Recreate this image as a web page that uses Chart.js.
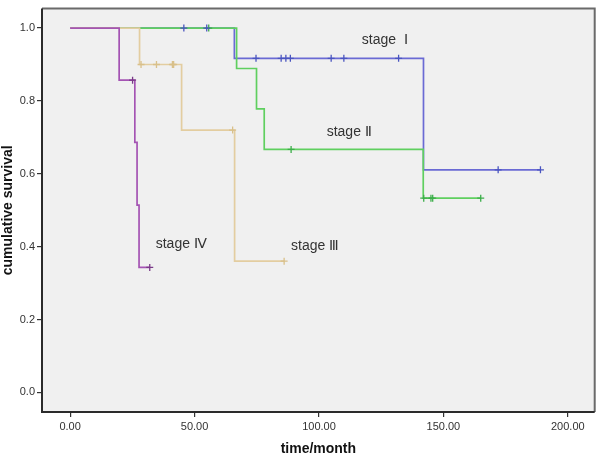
<!DOCTYPE html>
<html>
<head>
<meta charset="utf-8">
<script src="https://cdn.jsdelivr.net/npm/chart.js@4"></script>
<style>
  html, body { margin: 0; padding: 0; background: #fff; }
  #wrap { width: 600px; height: 458px; }
</style>
</head>
<body>
<div id="wrap"><canvas id="km-chart" width="600" height="458"></canvas></div>
<script>
// survival steps (time in months, cumulative survival)
const stage1Time = [0, 66, 142, 189]
const stage1Surv = [1, 0.917, 0.611, 0.611]
const stage1Censor = [45.7, 54.9, 74.7, 84.8, 86.7, 88.5, 104.9, 110, 132, 172, 189]

const stage2Time = [0, 66.9, 74.9, 78, 141.9, 165]
const stage2Surv = [1, 0.889, 0.778, 0.667, 0.533, 0.533]
const stage2Censor = [55.7, 88.8, 142.1, 145, 145.7, 165]

const stage3Time = [0, 27.9, 44.8, 66.1, 86]
const stage3Surv = [1, 0.9, 0.72, 0.36, 0.36]
const stage3Censor = [28.5, 34.7, 41.1, 41.6, 65.3, 86]

const stage4Time = [0, 19.7, 26, 26.9, 27.7, 32]
const stage4Surv = [1, 0.857, 0.686, 0.514, 0.343, 0.343]
const stage4Censor = [25.1, 32]

const xTicks = [0, 50, 100, 150, 200]
const yTicks = [0, 0.2, 0.4, 0.6, 0.8, 1.0]

const stageLabels = ['stage  Ⅰ', 'stage Ⅱ', 'stage Ⅲ', 'stage Ⅳ']
const labelX = [117.2, 103.1, 88.8, 34.4]
const labelY = [0.966, 0.715, 0.401, 0.406]

function toPoints(times, surv) {
    return times.map((t, i) => ({ x: t, y: surv[i] }))
}

// y of the step curve at a censoring time
function censorPoints(cens, times, surv) {
    return cens.map((c) => {
        let y = surv[0]
        for (let i = 0; i < times.length; i++) {
            if (times[i] <= c) y = surv[i]
        }
        return { x: c, y: y }
    })
}

const colors = {
    s1: '#6a6ad4',
    s2: '#5fcf5f',
    s3: '#e3cda0',
    s4: '#a453b3',
}

function stepSet(label, times, surv, color) {
    return {
        label: label,
        data: toPoints(times, surv),
        showLine: true,
        stepped: true,
        borderColor: color,
        borderWidth: 1.7,
        pointRadius: 0,
        fill: false,
    }
}

function censorSet(label, cens, times, surv, color) {
    return {
        label: label,
        data: censorPoints(cens, times, surv),
        showLine: false,
        pointStyle: 'cross',
        pointRadius: 3.5,
        pointBorderWidth: 1.3,
        borderColor: color,
        backgroundColor: color,
    }
}

// first dataset ends up on top
const data = {
    datasets: [
        censorSet('IV censored', stage4Censor, stage4Time, stage4Surv, '#7a3a88'),
        stepSet('stage IV', stage4Time, stage4Surv, colors.s4),
        censorSet('III censored', stage3Censor, stage3Time, stage3Surv, '#d9c08a'),
        stepSet('stage III', stage3Time, stage3Surv, colors.s3),
        censorSet('I censored', stage1Censor, stage1Time, stage1Surv, '#4a55c0'),
        censorSet('II censored', stage2Censor, stage2Time, stage2Surv, '#3cae4a'),
        stepSet('stage II', stage2Time, stage2Surv, colors.s2),
        stepSet('stage I', stage1Time, stage1Surv, colors.s1),
    ]
}

// grey panel + frame, and the stage names next to the curves
const panel = {
    id: 'panel',
    beforeDraw(chart) {
        const { ctx, chartArea: a } = chart
        ctx.save()
        ctx.fillStyle = '#f0f0f0'
        ctx.fillRect(a.left, a.top, a.right - a.left, a.bottom - a.top)
        ctx.restore()
    },
    afterDraw(chart) {
        const { ctx, chartArea: a, scales } = chart
        ctx.save()
        ctx.strokeStyle = '#6a6a6a'
        ctx.lineWidth = 2
        ctx.beginPath()
        ctx.moveTo(a.left, a.top)
        ctx.lineTo(a.right, a.top)
        ctx.lineTo(a.right, a.bottom)
        ctx.stroke()
        ctx.strokeStyle = '#2b2b2b'
        ctx.lineWidth = 2
        ctx.beginPath()
        ctx.moveTo(a.left, a.top)
        ctx.lineTo(a.left, a.bottom)
        ctx.lineTo(a.right, a.bottom)
        ctx.stroke()

        ctx.fillStyle = '#333'
        ctx.font = '14px "Liberation Sans", Arial, sans-serif'
        ctx.textAlign = 'left'
        ctx.textBaseline = 'middle'
        stageLabels.forEach((t, i) => {
            ctx.fillText(t, scales.x.getPixelForValue(labelX[i]), scales.y.getPixelForValue(labelY[i]))
        })
        ctx.restore()
    }
}

const tickFont = { family: '"Liberation Sans", Arial, sans-serif', size: 11 }
const titleFont = { family: '"Liberation Sans", Arial, sans-serif', size: 14, weight: 'bold' }

const config = {
    type: 'scatter',
    data: data,
    options: {
        responsive: false,
        animation: false,
        layout: { padding: { top: 3, right: 3, left: 0, bottom: 0 } },
        plugins: {
            legend: { display: false },
            tooltip: { enabled: false },
        },
        scales: {
            x: {
                type: 'linear',
                min: -11.3,
                max: 210.8,
                afterBuildTicks: (s) => { s.ticks = xTicks.map((v) => ({ value: v })) },
                afterFit: (s) => { s.height = 46 },
                border: { display: false },
                grid: { drawOnChartArea: false, tickLength: 5, color: '#333', lineWidth: 1.2 },
                ticks: {
                    color: '#333',
                    font: tickFont,
                    padding: 3,
                    maxRotation: 0,
                    callback: (v) => v.toFixed(2),
                },
                title: { display: true, text: 'time/month', color: '#111', font: titleFont, padding: 0 },
            },
            y: {
                type: 'linear',
                min: -0.054,
                max: 1.0535,
                afterBuildTicks: (s) => { s.ticks = yTicks.map((v) => ({ value: v })) },
                afterFit: (s) => { s.width = 42 },
                border: { display: false },
                grid: { drawOnChartArea: false, tickLength: 5, color: '#333', lineWidth: 1.2 },
                ticks: {
                    color: '#333',
                    font: tickFont,
                    padding: 2,
                    callback: (v) => v.toFixed(1),
                },
                title: { display: true, text: 'cumulative survival', color: '#111', font: titleFont, padding: 0 },
            },
        },
    },
    plugins: [panel],
}

new Chart(document.getElementById('km-chart'), config)
</script>
</body>
</html>
